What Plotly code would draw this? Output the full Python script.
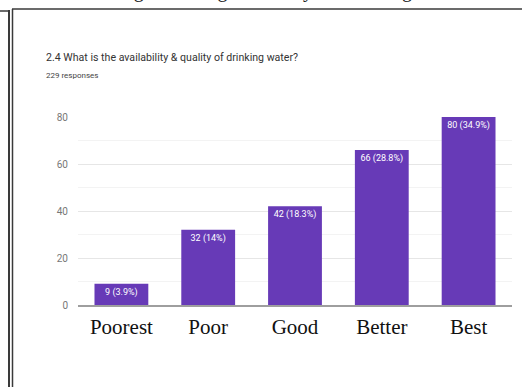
import plotly.graph_objects as go

categories = ["Poorest", "Poor", "Good", "Better", "Best"]
counts = [9, 32, 42, 66, 80]
percents = ["3.9%", "14%", "18.3%", "28.8%", "34.9%"]
y_ticks = [0, 20, 40, 60, 80]

W, H = 522, 387
L, R, T, B = 78, 10, 117, 82
PW, PH = W - L - R, H - T - B


def xp(px):
    return (px - L) / PW


def yp(py):
    return (H - B - py) / PH


labels = [f"{c} ({p})" for c, p in zip(counts, percents)]
SANS = "Roboto"

fig = go.Figure(
    go.Bar(
        x=categories,
        y=counts,
        text=labels,
        textposition="inside",
        insidetextanchor="end",
        textangle=0,
        textfont=dict(family=SANS, size=9, color="white"),
        marker=dict(color="#673ab7", line=dict(width=0)),
        width=0.62,
        cliponaxis=False,
        hoverinfo="skip",
    )
)

frame = "#3a3a3a"
shapes = [
    dict(type="line", xref="paper", yref="paper", x0=xp(9), x1=xp(9), y0=yp(10), y1=yp(390),
         line=dict(color=frame, width=2)),
    dict(type="line", xref="paper", yref="paper", x0=xp(12.5), x1=xp(12.5), y0=yp(9), y1=yp(390),
         line=dict(color=frame, width=1.5)),
    dict(type="line", xref="paper", yref="paper", x0=xp(12), x1=xp(525), y0=yp(9), y1=yp(9),
         line=dict(color=frame, width=1.5)),
    dict(type="line", xref="paper", yref="paper", x0=xp(-2), x1=xp(9), y0=yp(11), y1=yp(11),
         line=dict(color=frame, width=1.5)),
]

annotations = [
    dict(text="Fig. 6: Rating &amp; Quality of Drinking Water", xref="paper", yref="paper",
         x=xp(290), y=yp(4), xanchor="center", yanchor="bottom", showarrow=False,
         font=dict(family="Liberation Serif", size=20, color="#222")),
    dict(text="2.4 What is the availability &amp; quality of drinking water?", xref="paper", yref="paper",
         x=xp(44), y=yp(57), xanchor="left", yanchor="middle", showarrow=False,
         font=dict(family=SANS, size=10.6, color="#333")),
    dict(text="229 responses", xref="paper", yref="paper",
         x=xp(44), y=yp(75), xanchor="left", yanchor="middle", showarrow=False,
         font=dict(family=SANS, size=8, color="#444")),
]

fig.update_layout(
    width=W, height=H,
    margin=dict(l=L, r=R, t=T, b=B, autoexpand=False),
    paper_bgcolor="white", plot_bgcolor="white",
    showlegend=False,
    bargap=0.38,
    shapes=shapes,
    annotations=annotations,
    xaxis=dict(
        automargin=False,
        showgrid=False, showline=True, linecolor="#9e9e9e", linewidth=1.5,
        ticks="", tickfont=dict(family="Liberation Serif", size=21, color="#111"),
        ticklabelstandoff=2,
    ),
    yaxis=dict(
        automargin=False,
        range=[0, 80], tickvals=y_ticks, showgrid=True, gridcolor="#e6e6e6", gridwidth=1,
        zeroline=False, showline=False, ticks="",
        tickfont=dict(family=SANS, size=10, color="#777"),
        ticklabelstandoff=9,
        minor=dict(dtick=10, showgrid=True, gridcolor="#f3f3f3", gridwidth=1),
    ),
)

fig.write_html(
    "out.html",
    config={"displayModeBar": False, "staticPlot": True},
    post_script="document.body.style.margin='0';document.body.style.overflow='hidden';",
)
